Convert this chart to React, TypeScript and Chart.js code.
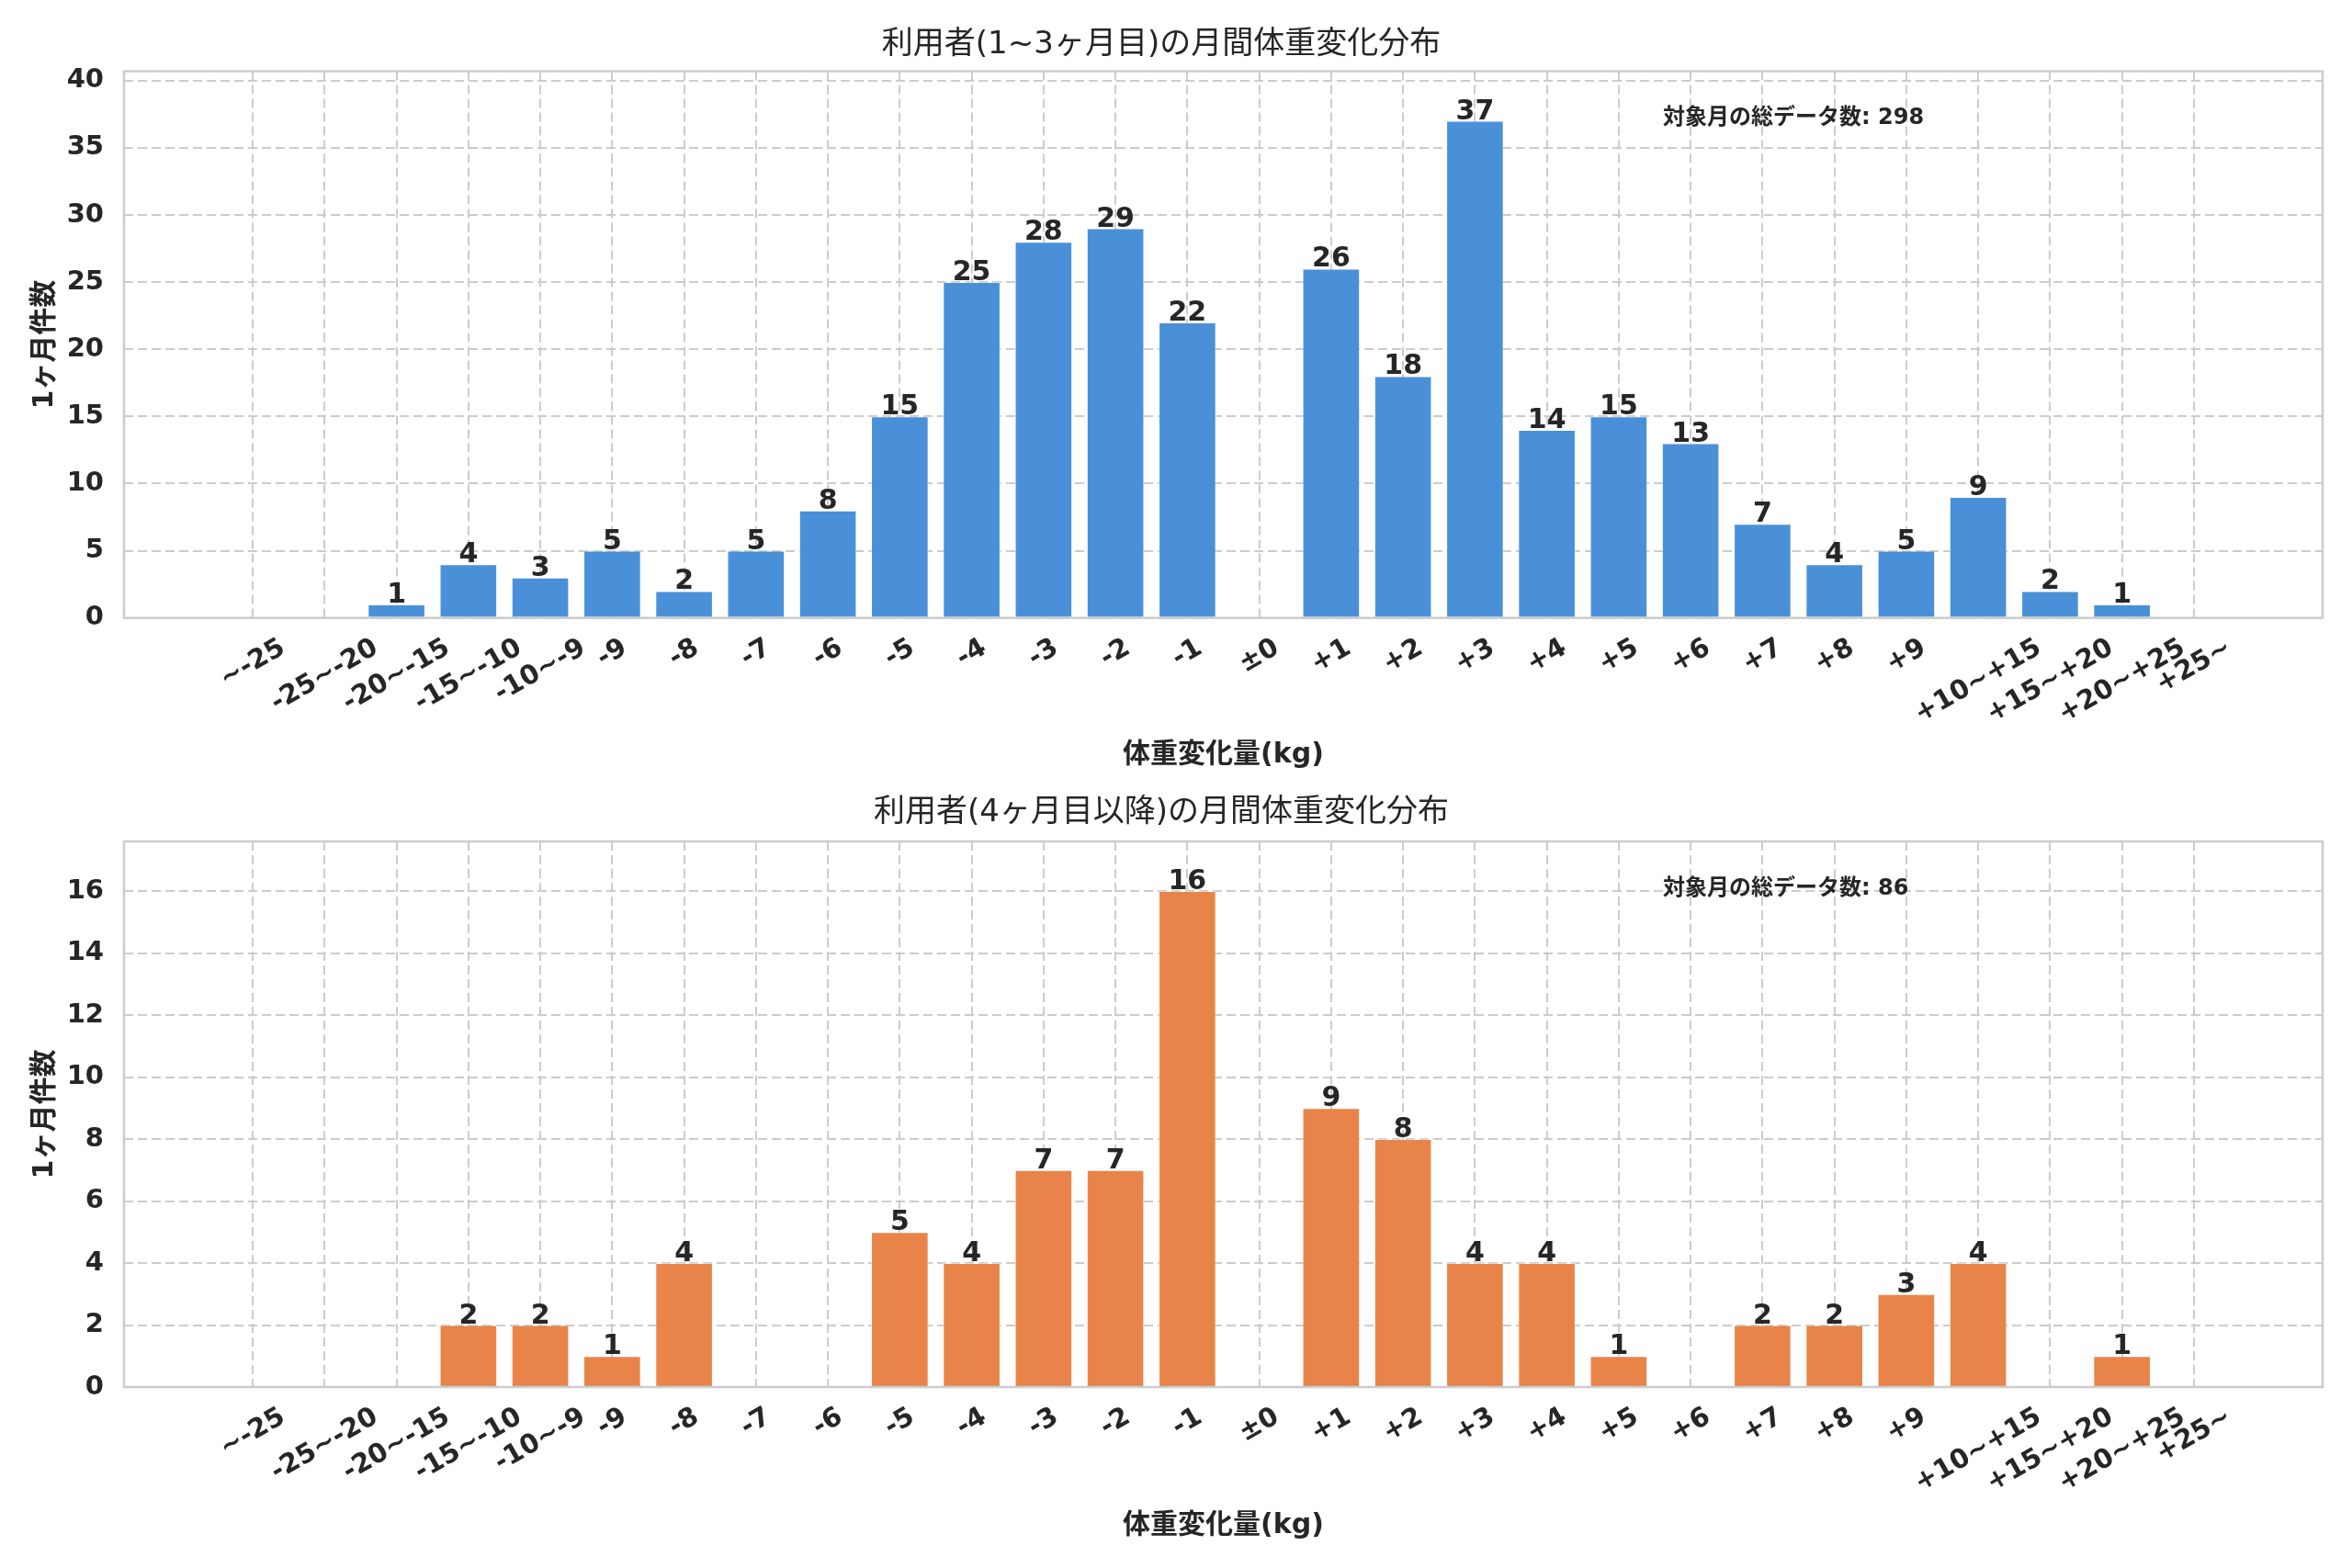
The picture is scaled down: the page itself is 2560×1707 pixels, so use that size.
import { useEffect, useRef } from "react"
import { Chart, registerables } from "chart.js"

Chart.register(...registerables)

// bins of monthly weight change (kg)
const binLabels = [
  "~-25", "-25~-20", "-20~-15", "-15~-10", "-10~-9",
  "-9", "-8", "-7", "-6", "-5", "-4", "-3", "-2", "-1",
  "±0",
  "+1", "+2", "+3", "+4", "+5", "+6", "+7", "+8", "+9",
  "+10~+15", "+15~+20", "+20~+25", "+25~",
]

// months 1-3
const earlyCounts = [0, 0, 1, 4, 3, 5, 2, 5, 8, 15, 25, 28, 29, 22, 0, 26, 18, 37, 14, 15, 13, 7, 4, 5, 9, 2, 1, 0]
// month 4 and later
const lateCounts = [0, 0, 0, 2, 2, 1, 4, 0, 0, 5, 4, 7, 7, 16, 0, 9, 8, 4, 4, 1, 0, 2, 2, 3, 4, 0, 1, 0]

const earlyYTicks = [0, 5, 10, 15, 20, 25, 30, 35, 40]
const lateYTicks = [0, 2, 4, 6, 8, 10, 12, 14, 16]

const earlyTitle = "利用者(1~3ヶ月目)の月間体重変化分布"
const lateTitle = "利用者(4ヶ月目以降)の月間体重変化分布"
const xTitle = "体重変化量(kg)"
const yTitle = "1ヶ月件数"
const totalLabel = "対象月の総データ数"

const FONT = "'DejaVu Sans', 'Noto Sans CJK JP', sans-serif"
const INK = "#262626"
const GRID = "#cccccc"
const TICK_SIZE = 29

interface PanelProps {
  title: string
  counts: number[]
  yTicks: number[]
  color: string
  height: number
  titleY: number
  areaTop: number
  areaBottom: number
  xTitleY: number
}

function Panel({ title, counts, yTicks, color, height, titleY, areaTop, areaBottom, xTitleY }: PanelProps) {
  const canvasRef = useRef<HTMLCanvasElement>(null)

  useEffect(() => {
    const canvas = canvasRef.current
    if (!canvas) return

    const yMax = Math.max(...counts) * 1.1
    // matplotlib-like x margins around bars of width 0.8
    const span = binLabels.length - 1 + 0.8
    const xMin = -0.4 - span * 0.05
    const xMax = binLabels.length - 1 + 0.4 + span * 0.05
    const total = counts.reduce((a, b) => a + b, 0)

    const decorations = {
      id: "decorations",
      afterDatasetsDraw(chart: Chart) {
        const { ctx, chartArea } = chart
        ctx.save()
        // frame
        ctx.strokeStyle = GRID
        ctx.lineWidth = 2.5
        ctx.setLineDash([])
        ctx.strokeRect(chartArea.left, chartArea.top, chartArea.right - chartArea.left, chartArea.bottom - chartArea.top)

        // value labels on bars
        const meta = chart.getDatasetMeta(0)
        ctx.font = `bold 30px ${FONT}`
        ctx.fillStyle = INK
        ctx.textAlign = "center"
        ctx.textBaseline = "alphabetic"
        meta.data.forEach((bar: any, i: number) => {
          const v = counts[i]
          if (!v) return
          ctx.fillText(String(v), bar.x, bar.y - 2)
        })
        ctx.restore()
      },
      afterDraw(chart: Chart) {
        const { ctx, chartArea } = chart
        const xs = chart.scales.x
        ctx.save()
        // rotated category labels, centred under each tick
        ctx.font = `bold ${TICK_SIZE}px ${FONT}`
        ctx.fillStyle = INK
        const base = chartArea.bottom + 16
        const h = TICK_SIZE * 1.17
        binLabels.forEach((label, i) => {
          const w = ctx.measureText(label).width
          const cy = base + (w * 0.5 + h * 0.866) / 2
          ctx.save()
          ctx.translate(xs.getPixelForValue(i), cy)
          ctx.rotate(-Math.PI / 6)
          ctx.textAlign = "center"
          ctx.textBaseline = "middle"
          ctx.fillText(label, 0, 0)
          ctx.restore()
        })

        // total count note
        const w = chartArea.right - chartArea.left
        const hh = chartArea.bottom - chartArea.top
        ctx.font = `bold 24px ${FONT}`
        ctx.textAlign = "left"
        ctx.textBaseline = "middle"
        ctx.fillText(`${totalLabel}: ${total}`, chartArea.left + 0.7 * w, chartArea.top + 0.05 * hh + 22)
        ctx.restore()
      },
    }

    const chart = new Chart(canvas, {
      type: "bar",
      data: {
        datasets: [
          {
            data: counts.map((v, i) => ({ x: i, y: v > 0 ? v : null })) as any,
            backgroundColor: color,
            borderColor: "rgba(255, 255, 255, 0.35)",
            borderWidth: 1,
            barPercentage: 0.8,
            categoryPercentage: 1.0,
          },
        ],
      },
      options: {
        responsive: false,
        animation: false,
        devicePixelRatio: 1,
        layout: { padding: { left: 0, right: 32, top: 0, bottom: 0 } },
        plugins: {
          legend: { display: false },
          tooltip: { enabled: false },
          title: {
            display: true,
            text: title,
            color: INK,
            font: { family: FONT, size: 34, weight: "normal", lineHeight: 1 },
            padding: { top: titleY - 17, bottom: areaTop - titleY - 17 },
          },
        },
        scales: {
          x: {
            type: "linear",
            min: xMin,
            max: xMax,
            offset: false,
            afterBuildTicks: (scale: any) => {
              scale.ticks = binLabels.map((_, i) => ({ value: i }))
            },
            afterFit: (scale: any) => {
              scale.height = height - areaBottom
            },
            ticks: { display: false },
            grid: { color: GRID, lineWidth: 2, drawTicks: false, offset: false },
            border: { display: false, dash: [10, 5] },
            title: {
              display: true,
              text: xTitle,
              color: INK,
              font: { family: FONT, size: 30, weight: "bold", lineHeight: 1 },
              padding: { top: 0, bottom: height - xTitleY - 15 },
            },
          },
          y: {
            min: 0,
            max: yMax,
            afterBuildTicks: (scale: any) => {
              scale.ticks = yTicks.map((v) => ({ value: v }))
            },
            afterFit: (scale: any) => {
              scale.width = 135
            },
            ticks: {
              color: INK,
              padding: 22,
              font: { family: FONT, size: TICK_SIZE, weight: "bold" },
            },
            grid: { color: GRID, lineWidth: 2, drawTicks: false },
            border: { display: false, dash: [10, 5] },
            title: {
              display: true,
              text: yTitle,
              color: INK,
              font: { family: FONT, size: 30, weight: "bold", lineHeight: 1 },
              padding: { top: 34, bottom: 0 },
            },
          },
        },
      },
      plugins: [decorations],
    } as any)

    return () => {
      chart.destroy()
    }
  }, [title, counts, yTicks, color, height, titleY, areaTop, areaBottom, xTitleY])

  return <canvas ref={canvasRef} width={2560} height={height} style={{ display: "block" }} />
}

export default function App() {
  return (
    <div style={{ position: "absolute", left: 0, top: 0, width: 2560, height: 1707, background: "#ffffff" }}>
      <Panel
        title={earlyTitle}
        counts={earlyCounts}
        yTicks={earlyYTicks}
        color="#4a90d9"
        height={853}
        titleY={49}
        areaTop={77.5}
        areaBottom={672.7}
        xTitleY={822}
      />
      <Panel
        title={lateTitle}
        counts={lateCounts}
        yTicks={lateYTicks}
        color="#e8844a"
        height={854}
        titleY={32}
        areaTop={63}
        areaBottom={657}
        xTitleY={808}
      />
    </div>
  )
}
